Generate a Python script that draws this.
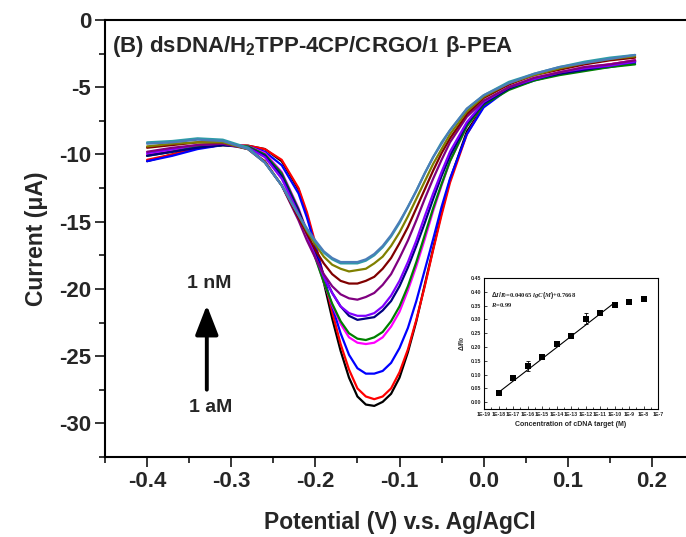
import numpy as np, pandas as pd, matplotlib
matplotlib.use("Agg")
import matplotlib.pyplot as plt, seaborn as sns
from matplotlib.ticker import FixedLocator, NullFormatter

sns.set_theme(style="ticks")
plt.rcParams['font.family'] = ['Liberation Sans', 'DejaVu Sans']
plt.rcParams['font.weight'] = 'bold'
plt.rcParams['mathtext.fontset'] = 'custom'
plt.rcParams['mathtext.rm'] = 'Liberation Sans:bold'
plt.rcParams['mathtext.bf'] = 'Liberation Sans:bold'
plt.rcParams['mathtext.sf'] = 'Liberation Serif'
plt.rcParams['mathtext.it'] = 'Liberation Serif:bold:italic'

# ---------------- data ----------------
potential = [-0.40, -0.37, -0.34, -0.31, -0.28, -0.26, -0.24, -0.22, -0.21, -0.20, -0.19, -0.18,
             -0.17, -0.16, -0.15, -0.14, -0.13, -0.12, -0.11, -0.10, -0.09, -0.08, -0.07, -0.06,
             -0.05, -0.04, -0.02, 0.00, 0.03, 0.06, 0.09, 0.12, 0.15, 0.18]

black = [-10.5, -10.0, -9.5, -9.3, -9.35, -9.6, -10.5, -12.6, -14.5, -16.8, -19.5, -22.2, -24.6, -26.6, -28.0, -28.6, -28.7, -28.4, -27.8, -26.6, -24.7, -22.4, -19.7, -17.0, -14.3, -11.9, -8.3, -6.4, -5.0, -4.4, -4.0, -3.6, -3.4, -3.1]
red = [-10.4, -10.0, -9.5, -9.3, -9.35, -9.6, -10.4, -12.5, -14.3, -16.6, -19.1, -21.7, -24.1, -26.0, -27.4, -28.0, -28.2, -28.0, -27.4, -26.2, -24.5, -22.3, -19.8, -17.1, -14.5, -12.1, -8.5, -6.4, -5.0, -4.4, -3.9, -3.6, -3.3, -3.0]
blue = [-10.5, -10.1, -9.6, -9.3, -9.4, -9.8, -10.8, -12.9, -14.7, -16.8, -19.1, -21.3, -23.3, -24.9, -25.9, -26.3, -26.3, -26.1, -25.5, -24.4, -22.9, -20.9, -18.6, -16.3, -13.9, -11.8, -8.5, -6.5, -5.1, -4.5, -4.0, -3.7, -3.5, -3.2]
magenta = [-10.0, -9.7, -9.4, -9.2, -9.4, -9.9, -11.3, -14.0, -15.7, -17.6, -19.5, -21.2, -22.6, -23.6, -24.0, -24.1, -24.0, -23.6, -22.8, -21.7, -20.1, -18.3, -16.3, -14.2, -12.3, -10.5, -7.9, -6.2, -5.0, -4.3, -3.9, -3.5, -3.3, -3.0]
green = [-10.1, -9.8, -9.4, -9.3, -9.4, -10.0, -11.4, -14.1, -15.8, -17.7, -19.5, -21.1, -22.4, -23.3, -23.7, -23.8, -23.6, -23.2, -22.4, -21.3, -19.8, -18.0, -16.0, -14.0, -12.2, -10.5, -7.9, -6.3, -5.2, -4.5, -4.1, -3.8, -3.5, -3.3]
navy = [-10.1, -9.8, -9.5, -9.3, -9.5, -10.1, -11.6, -14.2, -15.8, -17.4, -19.0, -20.3, -21.3, -22.0, -22.3, -22.2, -22.1, -21.6, -20.9, -19.8, -18.4, -16.8, -15.1, -13.3, -11.6, -10.1, -7.7, -6.2, -5.1, -4.4, -4.0, -3.7, -3.4, -3.1]
violet = [-9.9, -9.6, -9.3, -9.2, -9.5, -10.2, -11.8, -14.4, -16.0, -17.6, -19.1, -20.3, -21.3, -21.8, -22.0, -22.0, -21.8, -21.3, -20.5, -19.4, -18.0, -16.4, -14.6, -12.9, -11.3, -9.8, -7.6, -6.1, -5.0, -4.4, -3.9, -3.6, -3.4, -3.1]
purple = [-9.8, -9.5, -9.3, -9.2, -9.6, -10.6, -12.3, -14.9, -16.4, -17.7, -18.9, -19.8, -20.4, -20.7, -20.8, -20.6, -20.3, -19.7, -18.9, -17.7, -16.4, -14.9, -13.3, -11.8, -10.4, -9.1, -7.2, -6.0, -5.0, -4.3, -3.9, -3.5, -3.3, -3.0]
wine = [-9.5, -9.3, -9.1, -9.1, -9.6, -10.5, -12.3, -14.7, -15.9, -17.1, -18.1, -18.9, -19.4, -19.6, -19.6, -19.4, -19.1, -18.5, -17.7, -16.6, -15.4, -14.0, -12.6, -11.2, -9.9, -8.8, -7.0, -5.8, -4.8, -4.1, -3.7, -3.3, -3.0, -2.8]
olive = [-9.4, -9.2, -9.1, -9.1, -9.6, -10.6, -12.3, -14.5, -15.7, -16.7, -17.6, -18.2, -18.5, -18.7, -18.6, -18.5, -18.1, -17.6, -16.8, -15.8, -14.6, -13.3, -12.0, -10.7, -9.6, -8.5, -6.8, -5.7, -4.7, -4.1, -3.6, -3.2, -2.9, -2.7]
teal = [-9.1, -9.0, -8.8, -8.9, -9.5, -10.6, -12.3, -14.5, -15.6, -16.5, -17.3, -17.8, -18.1, -18.1, -18.1, -17.9, -17.5, -16.9, -16.1, -15.1, -13.9, -12.7, -11.4, -10.2, -9.1, -8.2, -6.6, -5.6, -4.6, -4.0, -3.5, -3.1, -2.8, -2.6]
steel = [-9.2, -9.1, -8.9, -9.0, -9.6, -10.6, -12.3, -14.5, -15.5, -16.4, -17.2, -17.7, -18.0, -18.0, -18.0, -17.8, -17.4, -16.8, -16.0, -15.0, -13.9, -12.7, -11.4, -10.2, -9.2, -8.2, -6.6, -5.6, -4.7, -4.0, -3.5, -3.2, -2.9, -2.6]

curve_names = ["black", "red", "blue", "magenta", "green", "navy", "violet", "purple", "wine", "olive", "teal", "steel"]
curve_values = [black, red, blue, magenta, green, navy, violet, purple, wine, olive, teal, steel]
curve_colors = ["#000000", "#FF0000", "#0000FF", "#FF00FF", "#008000", "#000080", "#8000FF", "#800080",
                "#800000", "#808000", "#2E9CA8", "#4A7DB8"]

x_ticks = [-0.4, -0.3, -0.2, -0.1, 0.0, 0.1, 0.2]
x_ticklabels = ["-0.4", "-0.3", "-0.2", "-0.1", "0.0", "0.1", "0.2"]
y_ticks = [0, -5, -10, -15, -20, -25, -30]
y_ticklabels = ["0", "-5", "-10", "-15", "-20", "-25", "-30"]

# inset data
conc = [1e-18, 1e-17, 1e-16, 1e-15, 1e-14, 1e-13, 1e-12, 1e-11, 1e-10, 1e-9, 1e-8]
resp = [0.033, 0.089, 0.130, 0.164, 0.212, 0.240, 0.302, 0.323, 0.353, 0.363, 0.373]
err = [0.0, 0.004, 0.018, 0.004, 0.008, 0.003, 0.020, 0.004, 0.003, 0.004, 0.003]
fit_x = [1e-18, 1e-10]
slope, intercept = 0.04065, 0.7668
inset_xticklabels = ["1E-19", "1E-18", "1E-17", "1E-16", "1E-15", "1E-14", "1E-13",
                     "1E-12", "1E-11", "1E-10", "1E-9", "1E-8", "1E-7"]
inset_yticks = [0.00, 0.05, 0.10, 0.15, 0.20, 0.25, 0.30, 0.35, 0.40, 0.45]

# ---------------- figure ----------------
df = pd.concat([pd.DataFrame({"Potential": potential, "Current": v, "curve": n})
                for n, v in zip(curve_names, curve_values)], ignore_index=True)

fig = plt.figure(figsize=(6.86, 5.37), dpi=100)
ax = fig.add_axes([105/686, 1-457/537, (694-105)/686, (457-20)/537])
sns.lineplot(data=df, x="Potential", y="Current", hue="curve", hue_order=curve_names,
             palette=dict(zip(curve_names, curve_colors)),
             estimator=None, sort=False, legend=False, lw=1.6, ax=ax)
ax.set_xlim(-0.45, 0.25); ax.set_ylim(-32.5, 0)
ax.set_xticks(x_ticks); ax.set_xticklabels(x_ticklabels)
ax.set_yticks(y_ticks); ax.set_yticklabels(y_ticklabels)
ax.xaxis.set_minor_locator(FixedLocator([-0.45, -0.35, -0.25, -0.15, -0.05, 0.05, 0.15]))
ax.yaxis.set_minor_locator(FixedLocator([-2.5, -7.5, -12.5, -17.5, -22.5, -27.5, -32.5]))
ax.tick_params(which='major', length=7, width=1.3, labelsize=16, direction='out', pad=3)
ax.tick_params(which='minor', length=4, width=1.3, direction='out')
for s in ax.spines.values():
    s.set_linewidth(1.5); s.set_color('black')
ax.spines['right'].set_visible(False)
ax.set_xlabel("Potential (V) v.s. Ag/AgCl", fontsize=16.5, fontweight='bold', labelpad=14)
ax.set_ylabel("Current (μA)", fontsize=16.5, fontweight='bold', labelpad=8)
ax.text(0.0119, 0.9405, r"(B) dsDNA/H$_2$TPP-4CP/CRGO/$\mathsf{1}$ β-PEA", transform=ax.transAxes,
        fontsize=16, fontweight='bold', va='center', ha='left')
ax.annotate("", xy=(-0.329, -21.0), xytext=(-0.329, -27.7),
            arrowprops=dict(arrowstyle='-|>,head_width=0.35,head_length=0.9', lw=2.8,
                            color='black', mutation_scale=20))
ax.text(-0.326, -19.6, "1 nM", ha='center', va='center', fontsize=14, fontweight='bold')
ax.text(-0.324, -28.8, "1 aM", ha='center', va='center', fontsize=14, fontweight='bold')

# inset
axi = fig.add_axes([484/686, 1-409/537, 174/686, 131/537])
axi.errorbar(conc, resp, yerr=err, fmt='none', ecolor='black', elinewidth=0.6, capsize=1.2, capthick=0.6)
sns.scatterplot(x=conc, y=resp, marker='s', color='black', s=14, edgecolor='black', linewidth=0,
                ax=axi, zorder=3)
sns.lineplot(x=fit_x, y=[slope*np.log10(v) + intercept for v in fit_x], color='black', lw=0.8, ax=axi)
axi.set_xscale('log')
axi.set_xlim(1e-19, 1e-7); axi.set_ylim(-0.025, 0.45)
axi.set_xticks([10.0**k for k in range(-19, -6)])
axi.set_xticklabels(inset_xticklabels)
axi.xaxis.set_minor_locator(FixedLocator([10**(k + 0.5) for k in range(-19, -7)]))
axi.xaxis.set_minor_formatter(NullFormatter())
axi.set_yticks(inset_yticks)
axi.set_yticklabels([f"{v:.2f}" for v in inset_yticks])
axi.tick_params(which='major', length=2, width=0.6, labelsize=3.8, direction='in', pad=2)
axi.tick_params(which='minor', length=1.2, width=0.6, direction='in')
for s in axi.spines.values():
    s.set_linewidth(0.8); s.set_color('black')
axi.set_xlabel("Concentration of cDNA target (M)", fontsize=5, fontweight='bold', labelpad=3)
axi.set_ylabel(r"$\Delta$I/I$_0$", fontsize=5, fontweight='bold', labelpad=3)
axi.text(0.04, 0.87, r"$\Delta I/I_0$=0.04065 $lgC(M)$+0.7668", transform=axi.transAxes, fontsize=4.8,
         family='Liberation Serif', fontweight='bold', va='center', ha='left')
axi.text(0.04, 0.795, r"$R$=0.99", transform=axi.transAxes, fontsize=4.8,
         family='Liberation Serif', fontweight='bold', va='center', ha='left')

fig.savefig("out.png", dpi=100)
